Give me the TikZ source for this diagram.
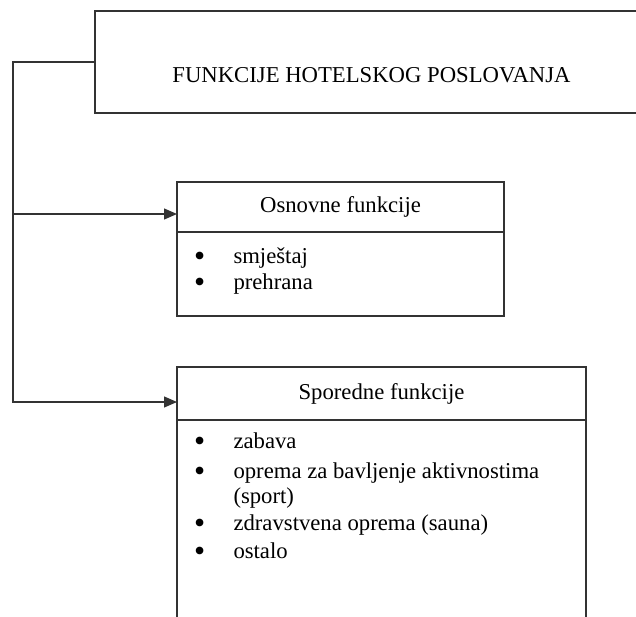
\documentclass[tikz,border=0pt]{standalone}
\usepackage{fontspec}
\setmainfont{Liberation Serif}
\usetikzlibrary{arrows.meta, positioning}

\newcommand{\bodyfont}{\fontsize{22.7}{25}\selectfont}
\newcommand{\dotmark}{\hspace*{-1.5pt}\smash{\raisebox{-0.15em}{\scalebox{1.4}{\textbullet}}}}

\tikzset{
  frame/.style={draw=black!80, line width=1.2pt, inner sep=0pt, outer sep=0pt, font=\bodyfont},
  link/.style={draw=black!80, line width=1.2pt},
  feed/.style={-{Triangle[length=13pt,width=11pt]}}
}

\begin{document}
\begin{tikzpicture}[x=1pt,y=-1pt]
  \clip (0,0) rectangle (636,617);

  % main box, runs past the right edge
  \node[frame, anchor=north west, minimum width=553pt, text height=71.5pt, text depth=30.5pt] (hotel) at (95,11) {FUNKCIJE HOTELSKOG POSLOVANJA};

  % osnovne funkcije
  \node[frame, anchor=north west, minimum width=327pt, minimum height=50pt] (osnovneHead) at (177,182) {Osnovne funkcije};
  \node[frame, below=0pt of osnovneHead, minimum width=327pt, text height=31pt, text depth=53pt] (osnovneBody)
    {\begin{tabular}[t]{@{}p{38pt}@{}p{252pt}@{}}
      \dotmark & smještaj\\[1pt]
      \dotmark & prehrana
    \end{tabular}};

  % sporedne funkcije, runs past the bottom edge
  \node[frame, anchor=north west, minimum width=409pt, minimum height=53pt] (sporedneHead) at (177,367) {Sporedne funkcije};
  \node[frame, below=0pt of sporedneHead, minimum width=409pt, text height=28pt, text depth=212pt] (sporedneBody)
    {\begin{tabular}[t]{@{}p{38pt}@{}p{334pt}@{}}
      \dotmark & zabava\\[5pt]
      \dotmark & oprema za bavljenje aktivnostima\\
               & (sport)\\[2pt]
      \dotmark & zdravstvena oprema (sauna)\\[3pt]
      \dotmark & ostalo
    \end{tabular}};

  % connectors
  \coordinate (rail) at ([xshift=-82pt]hotel.west);
  \coordinate (osnovneIn) at ([yshift=-7pt]osnovneHead.west);
  \coordinate (sporedneIn) at ([yshift=-8.5pt]sporedneHead.west);

  \draw[link, feed] (hotel.west) -- (rail) |- (sporedneIn);
  \draw[link, feed] (rail |- osnovneIn) -- (osnovneIn);
\end{tikzpicture}
\end{document}
